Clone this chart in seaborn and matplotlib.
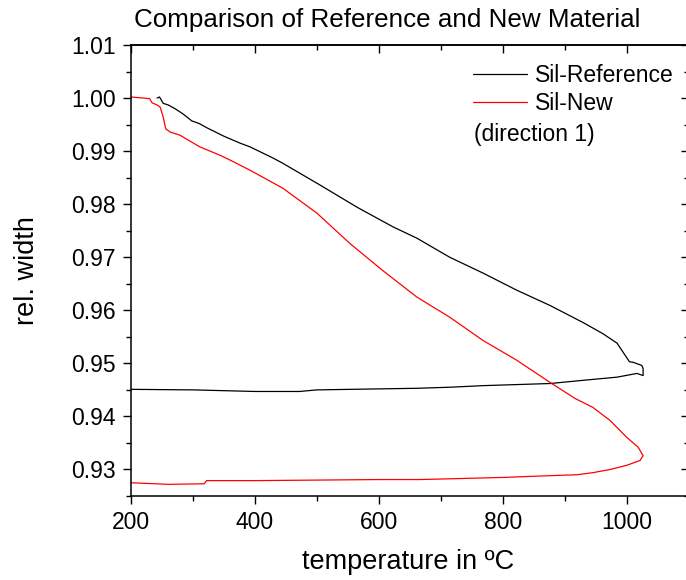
import numpy as np
import pandas as pd
import matplotlib
matplotlib.use("Agg")
import matplotlib.pyplot as plt
import seaborn as sns
from matplotlib.ticker import MultipleLocator, FormatStrFormatter

# ---- data ----
# Sil-Reference: heating then cooling (path order)
ref_T = [242, 246, 252, 260, 271, 284, 298, 310, 324, 350, 376, 392, 429, 445,
         505, 565, 623, 661, 714, 768, 822, 876, 929, 961, 984, 1000, 1004,
         1010, 1024, 1026, 1026,
         1016, 984, 929, 876, 822, 768, 714, 661, 606, 500, 472, 400, 300, 200]
ref_w = [1.0000, 1.0002, 0.9990, 0.9987, 0.9980, 0.9970, 0.9957, 0.9952, 0.9943,
         0.9928, 0.9915, 0.9908, 0.9887, 0.9877, 0.9836, 0.9794, 0.9757, 0.9736,
         0.9700, 0.9670, 0.9638, 0.9609, 0.9577, 0.9556, 0.9538, 0.9510, 0.9503,
         0.9502, 0.9496, 0.9490, 0.9477,
         0.9481, 0.9474, 0.9468, 0.9462, 0.9460, 0.9458, 0.9455, 0.9453, 0.9452,
         0.9450, 0.9447, 0.9447, 0.9450, 0.9451]

# Sil-New: heating then cooling (path order)
new_T = [200, 210, 220, 230, 234, 242, 247, 252, 256, 263, 279, 311, 344, 360,
         392, 445, 500, 553, 606, 661, 714, 768, 822, 876, 916, 945, 973, 1000,
         1018, 1026,
         1021, 1000, 973, 945, 919, 892, 800, 666, 600, 400, 322, 318, 260, 200]
new_w = [1.0002, 1.0001, 1.0000, 0.9999, 0.9991, 0.9987, 0.9983, 0.9964, 0.9942,
         0.9936, 0.9930, 0.9908, 0.9892, 0.9883, 0.9864, 0.9830, 0.9783, 0.9726,
         0.9675, 0.9625, 0.9587, 0.9543, 0.9506, 0.9464, 0.9434, 0.9417, 0.9392,
         0.9360, 0.9342, 0.9326,
         0.9317, 0.9308, 0.9300, 0.9294, 0.9290, 0.9289, 0.9285, 0.9281, 0.9281,
         0.9279, 0.9279, 0.9273, 0.9272, 0.9275]

title = "Comparison of Reference and New Material"
xlabel = "temperature in ºC"
ylabel = "rel. width"
labels = ["Sil-Reference", "Sil-New"]
note = "(direction 1)"

# ---- style ----
sns.set_style("ticks")
plt.rcParams['font.family'] = ['Liberation Sans', 'DejaVu Sans']
plt.rcParams['text.color'] = 'black'
plt.rcParams['axes.labelcolor'] = 'black'
plt.rcParams['xtick.color'] = 'black'
plt.rcParams['ytick.color'] = 'black'
plt.rcParams['xtick.labelcolor'] = 'black'
plt.rcParams['ytick.labelcolor'] = 'black'

W, H = 686, 580
fig = plt.figure(figsize=(W / 100, H / 100), dpi=100)
L, R, T, B = 131, 689, 45, 496
ax = fig.add_axes([L / W, 1 - B / H, (R - L) / W, (B - T) / H])

df_ref = pd.DataFrame({"T": ref_T, "w": ref_w})
df_new = pd.DataFrame({"T": new_T, "w": new_w})

sns.lineplot(data=df_ref, x="T", y="w", sort=False, estimator=None,
             color="black", lw=0.9, ax=ax, label=labels[0])
sns.lineplot(data=df_new, x="T", y="w", sort=False, estimator=None,
             color="red", lw=0.9, ax=ax, label=labels[1])

ax.set_xlim(200, 1100)
ax.set_ylim(0.925, 1.01)
ax.xaxis.set_major_locator(MultipleLocator(200))
ax.xaxis.set_minor_locator(MultipleLocator(100))
ax.yaxis.set_major_locator(MultipleLocator(0.01))
ax.yaxis.set_minor_locator(MultipleLocator(0.005))
ax.yaxis.set_major_formatter(FormatStrFormatter("%.2f"))

for s in ax.spines.values():
    s.set_visible(True)
    s.set_linewidth(1.1)
    s.set_color("black")

fs_tick = 16.5
ax.tick_params(which="both", direction="out", top=False, right=False,
               colors="black", labelcolor="black", width=1.0, labelsize=fs_tick)
ax.tick_params(which="major", length=6, pad=5)
ax.tick_params(which="minor", length=3.5)

# top / right inward ticks
secx = ax.secondary_xaxis("top")
secx.xaxis.set_major_locator(MultipleLocator(200))
secx.xaxis.set_minor_locator(MultipleLocator(100))
secx.tick_params(which="both", direction="in", labeltop=False, width=1.0,
                 colors="black")
secx.tick_params(which="major", length=6)
secx.tick_params(which="minor", length=3.5)
secx.spines["top"].set_linewidth(1.1)
secx.spines["top"].set_color("black")
secy = ax.secondary_yaxis("right")
secy.yaxis.set_major_locator(MultipleLocator(0.01))
secy.yaxis.set_minor_locator(MultipleLocator(0.005))
secy.tick_params(which="both", direction="in", labelright=False, width=1.0,
                 colors="black")
secy.tick_params(which="major", length=6)
secy.tick_params(which="minor", length=3.5)

ax.set_xlabel("")
ax.set_ylabel("")
fig.text(408 / W, 1 - 562 / H, xlabel, ha="center", va="center",
         fontsize=19.5, color="black")
fig.text(27 / W, 1 - 271 / H, ylabel, ha="center", va="center", rotation=90,
         fontsize=19.5, color="black")
fig.text(387 / W, 1 - 20 / H, title, ha="center", va="center",
         fontsize=18.7, color="black")

leg = ax.legend(loc="upper left", bbox_to_anchor=(473 / W, 1 - 64 / H),
                bbox_transform=fig.transFigure, frameon=False, fontsize=fs_tick,
                handlelength=2.35, handletextpad=0.35, labelspacing=0.2,
                borderpad=0, borderaxespad=0)
for h in leg.get_lines():
    h.set_linewidth(0.9)
for t in leg.get_texts():
    t.set_color("black")
fig.text(474 / W, 1 - 135 / H, note, ha="left", va="center",
         fontsize=fs_tick, color="black")

fig.savefig("out.png", dpi=100)
